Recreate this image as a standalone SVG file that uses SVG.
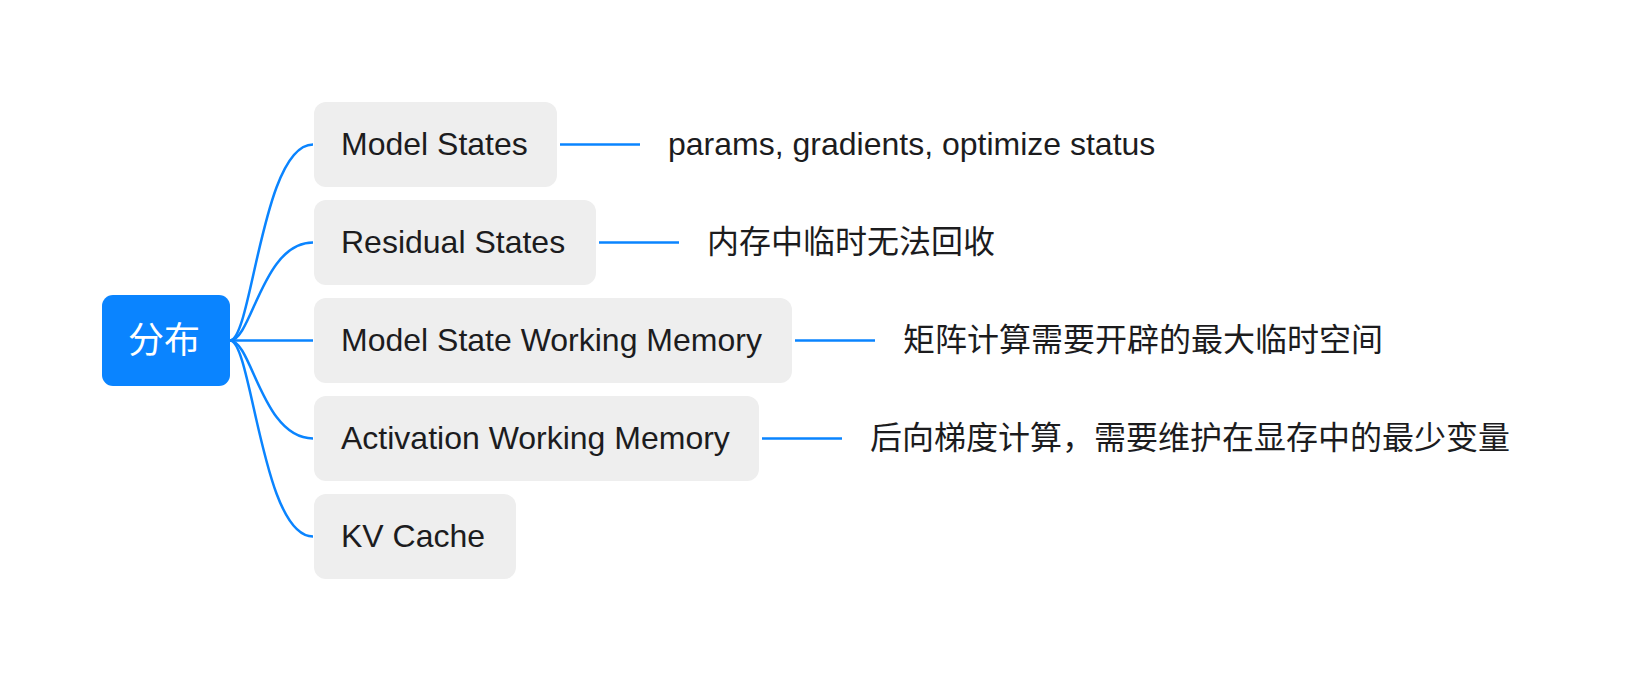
<svg xmlns="http://www.w3.org/2000/svg" width="1642" height="682" viewBox="0 0 1642 682">
<style>
.bg{fill:#ffffff}
.box{fill:#eeeeee}
.root{fill:#0a84ff}
.t{font-family:"Liberation Sans","Noto Sans CJK SC",sans-serif;font-size:32px;fill:#1c1c1e}
.rt{font-family:"Noto Sans CJK SC","Liberation Sans",sans-serif;font-size:36px;fill:#ffffff}
.c{fill:none;stroke:#0a84ff;stroke-width:2.5}
</style>
<rect class="bg" x="0" y="0" width="1642" height="682"/>
<g id="connectors">
<path class="c" d="M230,340.5 C252,340.5 262,144.5 313,144.5"/>
<path class="c" d="M230,340.5 C252,340.5 262,242.5 313,242.5"/>
<path class="c" d="M230,340.5 L313,340.5"/>
<path class="c" d="M230,340.5 C252,340.5 262,438.5 313,438.5"/>
<path class="c" d="M230,340.5 C252,340.5 262,536.5 313,536.5"/>
<path class="c" d="M560,144.5 H640"/>
<path class="c" d="M599,242.5 H679"/>
<path class="c" d="M795,340.5 H875"/>
<path class="c" d="M762,438.5 H842"/>
</g>
<g id="root">
<rect class="root" x="102" y="295" width="128" height="91" rx="11"/>
<text class="rt" x="164" y="353" text-anchor="middle">分布</text>
</g>
<g id="n1">
<rect class="box" x="314" y="102" width="243" height="85" rx="12"/>
<text class="t" x="341" y="154.5">Model States</text>
</g>
<g id="n2">
<rect class="box" x="314" y="200" width="282" height="85" rx="12"/>
<text class="t" x="341" y="252.5">Residual States</text>
</g>
<g id="n3">
<rect class="box" x="314" y="298" width="478" height="85" rx="12"/>
<text class="t" x="341" y="350.5">Model State Working Memory</text>
</g>
<g id="n4">
<rect class="box" x="314" y="396" width="445" height="85" rx="12"/>
<text class="t" x="341" y="448.5">Activation Working Memory</text>
</g>
<g id="n5">
<rect class="box" x="314" y="494" width="202" height="85" rx="12"/>
<text class="t" x="341" y="546.5">KV Cache</text>
</g>
<g id="l1"><text class="t" x="668" y="155">params, gradients, optimize status</text></g>
<g id="l2"><text class="t" x="707" y="253">内存中临时无法回收</text></g>
<g id="l3"><text class="t" x="903" y="351">矩阵计算需要开辟的最大临时空间</text></g>
<g id="l4"><text class="t" x="870" y="449">后向梯度计算，需要维护在显存中的最少变量</text></g>
</svg>
